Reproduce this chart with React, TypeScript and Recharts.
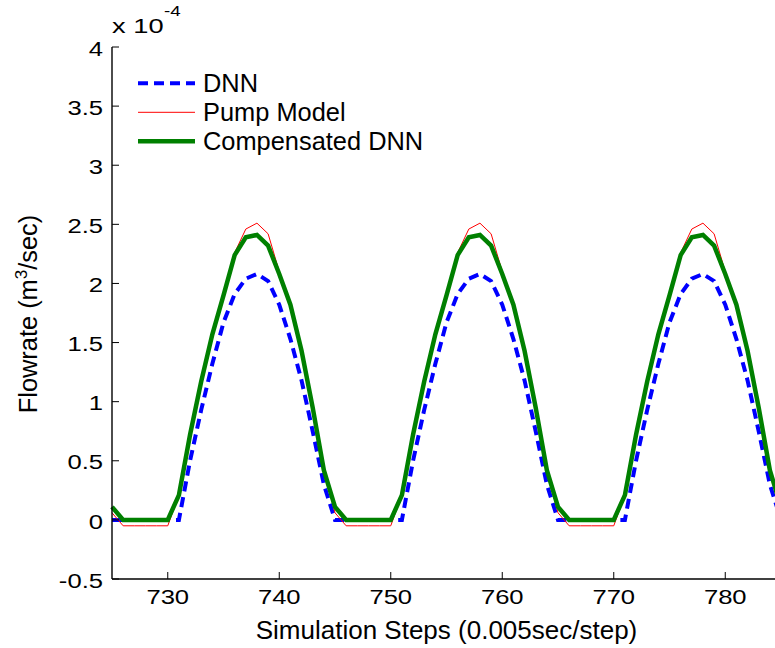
import React from 'react';
import { LineChart, Line, XAxis, YAxis } from 'recharts';

// simulation step index (x axis)
const steps = [
  725, 726, 727, 728, 729, 730, 731, 732, 733, 734, 735, 736, 737, 738, 739, 740, 741, 742, 743, 744,
  745, 746, 747, 748, 749, 750, 751, 752, 753, 754, 755, 756, 757, 758, 759, 760, 761, 762, 763, 764,
  765, 766, 767, 768, 769, 770, 771, 772, 773, 774, 775, 776, 777, 778, 779, 780, 781, 782, 783, 784,
  785,
];

// flowrate in units of 1e-4 m^3/sec
const dnn = [
  0, 0, 0, 0, 0, 0, 0, 0.5, 0.93, 1.32, 1.67, 1.91, 2.04, 2.08, 2.02, 1.82, 1.53, 1.18, 0.75, 0.3,
  0, 0, 0, 0, 0, 0, 0, 0.5, 0.93, 1.32, 1.67, 1.91, 2.04, 2.08, 2.02, 1.82, 1.53, 1.18, 0.75, 0.3,
  0, 0, 0, 0, 0, 0, 0, 0.5, 0.93, 1.32, 1.67, 1.91, 2.04, 2.08, 2.02, 1.82, 1.53, 1.18, 0.75, 0.3,
  0,
];

const pumpModel = [
  0.06, -0.05, -0.05, -0.05, -0.05, -0.05, 0.21, 0.72, 1.17, 1.57, 1.9, 2.26, 2.46, 2.51, 2.42, 2.1, 1.82, 1.43, 0.95, 0.42,
  0.06, -0.05, -0.05, -0.05, -0.05, -0.05, 0.21, 0.72, 1.17, 1.57, 1.9, 2.26, 2.46, 2.51, 2.42, 2.1, 1.82, 1.43, 0.95, 0.42,
  0.06, -0.05, -0.05, -0.05, -0.05, -0.05, 0.21, 0.72, 1.17, 1.57, 1.9, 2.26, 2.46, 2.51, 2.42, 2.1, 1.82, 1.43, 0.95, 0.42,
  0.06,
];

const compensatedDnn = [
  0.11, 0, 0, 0, 0, 0, 0.21, 0.72, 1.17, 1.57, 1.9, 2.24, 2.39, 2.41, 2.32, 2.08, 1.82, 1.43, 0.95, 0.42,
  0.11, 0, 0, 0, 0, 0, 0.21, 0.72, 1.17, 1.57, 1.9, 2.24, 2.39, 2.41, 2.32, 2.08, 1.82, 1.43, 0.95, 0.42,
  0.11, 0, 0, 0, 0, 0, 0.21, 0.72, 1.17, 1.57, 1.9, 2.24, 2.39, 2.41, 2.32, 2.08, 1.82, 1.43, 0.95, 0.42,
  0.11,
];

const xTicks = [730, 740, 750, 760, 770, 780];
const yTicks = [-0.5, 0, 0.5, 1, 1.5, 2, 2.5, 3, 3.5, 4];

const legendItems = [
  { name: 'DNN', color: '#0000ff', width: 4, dash: '10 6' },
  { name: 'Pump Model', color: '#ff0000', width: 1, dash: undefined },
  { name: 'Compensated DNN', color: '#008000', width: 4.5, dash: undefined },
];

const chartData = steps.map((step, i) => ({
  step,
  dnn: dnn[i],
  pump: pumpModel[i],
  comp: compensatedDnn[i],
}));

const FONT = '"Liberation Sans", Arial, Helvetica, sans-serif';
const TICK_LEN = 7;

const BottomTick = ({ x, y, payload }: any) => (
  <g>
    <line x1={x} y1={y} x2={x} y2={y - TICK_LEN} stroke="#000" strokeWidth={1} />
    <text
      transform={`translate(${x},${y + 24.5}) scale(1.25,1)`}
      textAnchor="middle"
      fontSize={20.5}
      fontFamily={FONT}
      fill="#000"
    >
      {payload.value}
    </text>
  </g>
);

const LeftTick = ({ x, y, payload }: any) => (
  <g>
    <line x1={x} y1={y} x2={x + TICK_LEN} y2={y} stroke="#000" strokeWidth={1} />
    <text
      transform={`translate(${x - 9},${y}) scale(1.25,1)`}
      textAnchor="end"
      dy="0.42em"
      fontSize={20.5}
      fontFamily={FONT}
      fill="#000"
    >
      {String(payload.value)}
    </text>
  </g>
);

const TopTick = ({ x, y }: any) => (
  <line x1={x} y1={y} x2={x} y2={y + TICK_LEN} stroke="#000" strokeWidth={1} />
);

const RightTick = ({ x, y }: any) => (
  <line x1={x} y1={y} x2={x - TICK_LEN} y2={y} stroke="#000" strokeWidth={1} />
);

export default function App() {
  return (
    <div
      style={{
        position: 'absolute',
        left: 0,
        top: 0,
        width: 775,
        height: 648,
        overflow: 'hidden',
        background: '#fff',
      }}
    >
      <LineChart
        width={800}
        height={648}
        data={chartData}
        margin={{ top: 47, right: 19, bottom: 0, left: 0 }}
      >
        <XAxis
          dataKey="step"
          type="number"
          domain={[725, 785]}
          ticks={xTicks}
          interval={0}
          height={69}
          tickSize={0}
          tickMargin={0}
          tickLine={false}
          tick={<BottomTick />}
          axisLine={{ stroke: '#000', strokeWidth: 1.4 }}
        />
        <XAxis
          xAxisId="top"
          orientation="top"
          dataKey="step"
          type="number"
          domain={[725, 785]}
          ticks={xTicks}
          interval={0}
          height={0}
          tickSize={0}
          tickMargin={0}
          tickLine={false}
          tick={<TopTick />}
          axisLine={{ stroke: '#000', strokeWidth: 1.4 }}
        />
        <YAxis
          type="number"
          domain={[-0.5, 4]}
          ticks={yTicks}
          interval={0}
          width={112}
          tickSize={0}
          tickMargin={0}
          tickLine={false}
          tick={<LeftTick />}
          axisLine={{ stroke: '#000', strokeWidth: 1.4 }}
        />
        <YAxis
          yAxisId="right"
          orientation="right"
          type="number"
          domain={[-0.5, 4]}
          ticks={yTicks}
          interval={0}
          width={0}
          tickSize={0}
          tickMargin={0}
          tickLine={false}
          tick={<RightTick />}
          axisLine={{ stroke: '#000', strokeWidth: 1.4 }}
        />
        <Line
          dataKey="dnn"
          stroke="#0000ff"
          strokeWidth={4}
          strokeDasharray="10 6"
          dot={false}
          activeDot={false}
          isAnimationActive={false}
        />
        <Line
          dataKey="pump"
          stroke="#ff0000"
          strokeWidth={1}
          dot={false}
          activeDot={false}
          isAnimationActive={false}
        />
        <Line
          dataKey="comp"
          stroke="#008000"
          strokeWidth={4.5}
          dot={false}
          activeDot={false}
          isAnimationActive={false}
        />
      </LineChart>

      {/* labels, exponent and legend drawn on top of the chart */}
      <svg
        width={775}
        height={648}
        style={{ position: 'absolute', left: 0, top: 0, pointerEvents: 'none' }}
        fontFamily={FONT}
      >
        <text transform="translate(112,33.3) scale(1.3,1)" fontSize={21} fill="#000">
          x 10
        </text>
        <text transform="translate(164,15.5) scale(1.25,1)" fontSize={15} fill="#000">
          -4
        </text>

        <text x={446.5} y={639} textAnchor="middle" fontSize={26} fill="#000">
          Simulation Steps (0.005sec/step)
        </text>

        <text
          transform="translate(37,314) rotate(-90)"
          textAnchor="middle"
          fontSize={25.4}
          fill="#000"
        >
          Flowrate (m
          <tspan fontSize={17} dy={-10}>3</tspan>
          <tspan dy={10}>/sec)</tspan>
        </text>

        {legendItems.map((item, i) => {
          const cy = 83.3 + i * 29;
          return (
            <g key={item.name}>
              <line
                x1={138}
                x2={195}
                y1={cy}
                y2={cy}
                stroke={item.color}
                strokeWidth={item.width}
                strokeDasharray={item.dash}
              />
              <text x={203} y={cy + 8.8} fontSize={25.4} fill="#000">
                {item.name}
              </text>
            </g>
          );
        })}
      </svg>
    </div>
  );
}
